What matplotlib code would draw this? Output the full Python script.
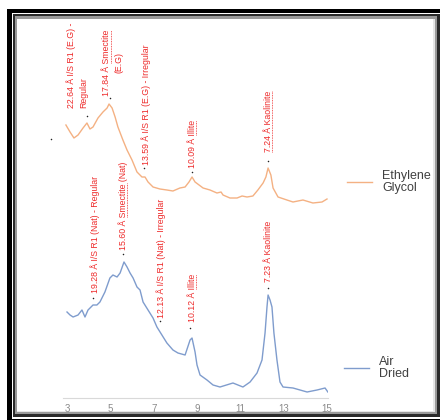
import matplotlib.pyplot as plt
import numpy as np
from matplotlib.lines import Line2D
from matplotlib.patches import Rectangle

# XRD traces, 2-theta (deg) vs intensity (counts, arbitrary offset)
two_theta_eg = [2.95, 3.14, 3.32, 3.51, 3.74, 3.92, 4.06, 4.20, 4.43, 4.66, 4.85, 4.94,
                5.08, 5.22, 5.35, 5.58, 5.77, 6.00, 6.23, 6.46, 6.60, 6.74, 6.97, 7.29,
                7.61, 7.89, 8.21, 8.45, 8.63, 8.77, 8.91, 9.28, 9.60, 9.92, 10.11, 10.20,
                10.52, 10.85, 11.08, 11.31, 11.58, 11.81, 12.05, 12.18, 12.28, 12.41, 12.51,
                12.74, 13.15, 13.43, 13.89, 14.35, 14.77, 15.00]
counts_eg = [273, 266, 260, 263, 270, 275, 269, 271, 280, 286, 290, 294,
             290, 281, 271, 258, 248, 238, 226, 221, 221, 216, 211, 209,
             208, 207, 210, 211, 216, 221, 216, 210, 208, 205, 206, 203,
             200, 200, 202, 201, 202, 208, 215, 221, 230, 223, 210,
             201, 198, 196, 198, 195, 196, 199]

two_theta_ad = [3.00, 3.14, 3.28, 3.51, 3.69, 3.83, 3.97, 4.20, 4.38, 4.52, 4.75, 4.98,
                5.12, 5.31, 5.45, 5.63, 5.77, 5.91, 6.05, 6.23, 6.37, 6.51, 6.74, 6.97,
                7.15, 7.38, 7.61, 7.89, 8.12, 8.45, 8.68, 8.77, 8.91, 9.00, 9.14, 9.46,
                9.74, 10.06, 10.66, 11.12, 11.45, 11.77, 12.00, 12.14, 12.23, 12.28, 12.37,
                12.46, 12.55, 12.69, 12.83, 12.97, 13.43, 14.08, 14.54, 14.91, 15.04]
counts_ad = [86, 83, 81, 83, 88, 81, 88, 93, 93, 96, 106, 120,
             123, 121, 125, 136, 131, 125, 120, 111, 108, 96, 88, 80,
             71, 63, 55, 48, 45, 43, 58, 60, 46, 33, 23, 18,
             13, 11, 15, 11, 16, 25, 38, 65, 91, 103, 98,
             91, 65, 38, 16, 11, 10, 6, 8, 10, 6]

# Peak picks
eg_peak_pos = [3.92, 4.98, 6.55, 8.77, 12.28]
eg_peak_height = [282, 300, 230, 226, 237]
eg_labels = ["22.64 Å I/S R1 (E.G) -\nRegular", "17.84 Å Smectite\n(E.G)",
             "13.59 Å I/S R1 (E.G) - Irregular", "10.09 Å Illite", "7.24 Å Kaolinite"]
eg_underline = [None, "Smectite", None, "Illite", "7.24 Å Kaolinite"]

ad_peak_pos = [4.20, 5.58, 7.29, 8.68, 12.28]
ad_peak_height = [100, 144, 77, 70, 110]
ad_labels = ["19.28 Å I/S R1 (Nat) - Regular", "15.60 Å Smectite (Nat)",
             "12.13 Å I/S R1 (Nat) - Irregular", "10.12 Å Illite", "7.23 Å Kaolinite"]
ad_underline = [None, "Smectite", None, "Illite", None]

stray_x = [2.26]
stray_y = [259]

series_names = ["Ethylene\nGlycol", "Air\nDried"]
xticks = [3, 5, 7, 9, 11, 13, 15]

# label placement: (dx px, dy px, ha, multialignment)
eg_place = [(1, 8, "right", "left"), (3, 2, "center", "center"), (2, 3, "center", "left"),
            (0, 4, "center", "left"), (0, 9, "center", "left")]
ad_place = [(2, 5, "center", "left"), (0, 4, "center", "left"), (1, 3, "center", "left"),
            (2, 6, "center", "left"), (0, 6, "center", "left")]

W, H = 440, 420
fig = plt.figure(figsize=(W / 100, H / 100), dpi=100)
label_font = ["Liberation Sans Narrow", "Liberation Sans", "DejaVu Sans"]
red = "#ee2a2a"


def px_rect(x0, y0, x1, y1, color, z):
    fig.patches.append(Rectangle((x0 / W, 1 - y1 / H), (x1 - x0) / W, (y1 - y0) / H,
                                 transform=fig.transFigure, facecolor=color,
                                 edgecolor="none", zorder=z))


# double black frame, open on the right
px_rect(7, 9, 470, 440, "black", -10)
px_rect(12, 13, 465, 419, "white", -9)
px_rect(13, 14, 460, 417, "#2a2a2a", -8)
px_rect(15, 16, 437, 414, "#9a9a9a", -7)
px_rect(17, 19, 435, 412, "#e6e6e6", -6)
px_rect(17, 19, 433, 411, "white", -5)

ax = fig.add_axes([63 / W, 1 - 398 / H, 265 / W, 376 / H])
ax.set_facecolor("none")

eg_line, = ax.plot(two_theta_eg, counts_eg, color="#f4b183", lw=1.0)
ad_line, = ax.plot(two_theta_ad, counts_ad, color="#7f9ccd", lw=1.0)

ax.plot(eg_peak_pos + ad_peak_pos + stray_x, eg_peak_height + ad_peak_height + stray_y,
        "o", color="#222222", ms=1.1, mew=0, clip_on=False, zorder=3)

texts = []
for pos, hgt, lab, ul, (dx, dy, ha, ma) in zip(eg_peak_pos + ad_peak_pos,
                                               eg_peak_height + ad_peak_height,
                                               eg_labels + ad_labels,
                                               eg_underline + ad_underline,
                                               eg_place + ad_place):
    t = ax.annotate(lab, (pos, hgt), xytext=(dx, dy), textcoords="offset pixels",
                    rotation=90, ha=ha, va="bottom", multialignment=ma,
                    color=red, fontsize=6.3, family=label_font, linespacing=1.45,
                    annotation_clip=False)
    texts.append((t, lab, ul))

ax.set_xlim(2.815, 15.046)
ax.set_ylim(0, 376)
ax.set_xticks(xticks)
ax.set_yticks([])
for s in ["top", "right", "left"]:
    ax.spines[s].set_visible(False)
ax.spines["bottom"].set_color("#d9d9d9")
ax.tick_params(axis="x", length=0, pad=4, labelsize=7, labelcolor="#8a8a8a")
for lbl in ax.get_xticklabels():
    lbl.set_family(["Liberation Sans", "DejaVu Sans"])

leg_font = {"family": ["Liberation Sans", "DejaVu Sans"], "size": 9}
leg1 = ax.legend([eg_line], [series_names[0]], loc="center left",
                 bbox_to_anchor=(1.072, 0.5745), frameon=False, borderpad=0,
                 borderaxespad=0, handlelength=2.0, handletextpad=0.8, prop=leg_font,
                 labelcolor="#404040")
ax.add_artist(leg1)
leg2 = ax.legend([ad_line], [series_names[1]], loc="center left",
                 bbox_to_anchor=(1.06, 0.08), frameon=False, borderpad=0,
                 borderaxespad=0, handlelength=2.0, handletextpad=0.8, prop=leg_font,
                 labelcolor="#404040")
for leg in (leg1, leg2):
    for txt in leg.get_texts():
        txt.set_linespacing(1.0)

# dotted underlines on the mineral names
fig.canvas.draw()
renderer = fig.canvas.get_renderer()
to_fig = fig.transFigure.inverted()
for t, lab, ul in texts:
    if ul is None:
        continue
    first = lab.split("\n")[0]
    n_lines = lab.count("\n") + 1
    prop = t.get_fontproperties()
    bb = t.get_window_extent(renderer)
    start = first.index(ul)
    pw = renderer.get_text_width_height_descent(first[:start], prop, ismath=False)[0] if start else 0
    ww = renderer.get_text_width_height_descent(ul, prop, ismath=False)[0]
    if n_lines == 1:
        xu = bb.x1 - 0.8
    else:
        _, lh, _ = renderer.get_text_width_height_descent("lp", prop, ismath=False)
        xu = bb.x0 + lh - 0.8
    p0 = to_fig.transform((xu, bb.y0 + pw))
    p1 = to_fig.transform((xu, bb.y0 + pw + ww))
    fig.add_artist(Line2D([p0[0], p1[0]], [p0[1], p1[1]], transform=fig.transFigure,
                          color=red, lw=0.6, ls=(0, (1, 1))))

plt.savefig("out.png", dpi=100)
